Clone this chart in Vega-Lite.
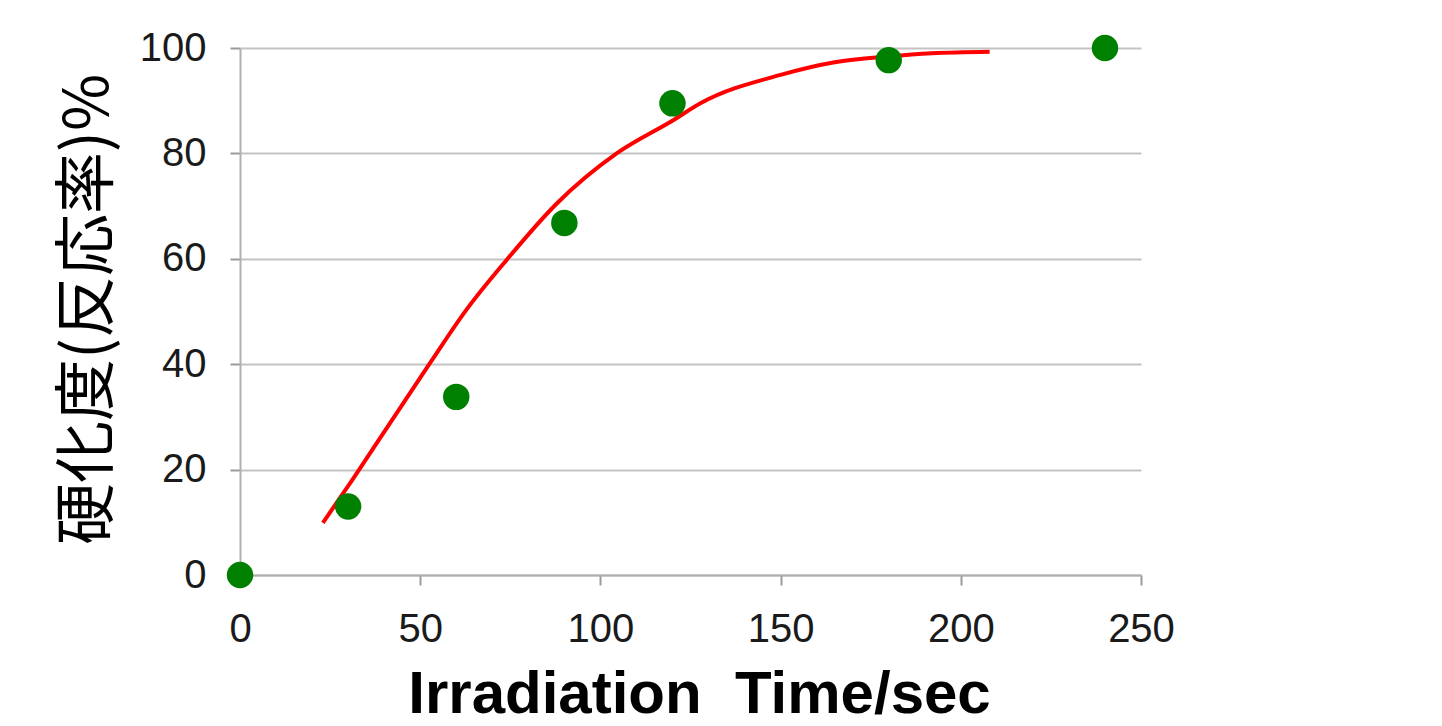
{
  "$schema": "https://vega.github.io/schema/vega-lite/v6.json",
  "width": 901,
  "height": 527,
  "autosize": "none",
  "padding": {"left": 240, "top": 48, "right": 301, "bottom": 151},
  "background": "white",
  "config": {
    "view": {"stroke": null},
    "axis": {
      "labelFont": "Liberation Sans",
      "labelFontSize": 40,
      "labelColor": "#1a1a1a",
      "gridColor": "#c3c3c3",
      "gridWidth": 2,
      "domainColor": "#b0b0b0",
      "domainWidth": 2,
      "tickColor": "#9a9a9a",
      "tickWidth": 2,
      "tickSize": 10
    }
  },
  "datasets": {
    "measured": [
      {"time": 0, "cure": 0},
      {"time": 30, "cure": 13},
      {"time": 60, "cure": 33.8},
      {"time": 90, "cure": 66.8},
      {"time": 120, "cure": 89.5},
      {"time": 180, "cure": 97.7},
      {"time": 240, "cure": 100}
    ],
    "fit": [
      {"time": 23, "cure": 9.9},
      {"time": 31.5, "cure": 18.4},
      {"time": 42, "cure": 29.2},
      {"time": 52.7, "cure": 40.2},
      {"time": 62.9, "cure": 50.4},
      {"time": 74, "cure": 59.8},
      {"time": 87.9, "cure": 70.5},
      {"time": 104.5, "cure": 80.0},
      {"time": 120.2, "cure": 86.3},
      {"time": 128, "cure": 89.6},
      {"time": 150, "cure": 94.9},
      {"time": 165, "cure": 97.3},
      {"time": 180, "cure": 98.4},
      {"time": 192, "cure": 99.0},
      {"time": 208, "cure": 99.3}
    ]
  },
  "encoding": {
    "x": {
      "field": "time",
      "type": "quantitative",
      "scale": {"domain": [0, 250], "nice": false, "zero": false},
      "axis": {
        "values": [0, 50, 100, 150, 200, 250],
        "grid": false,
        "title": "Irradiation\u00a0\u00a0Time/sec",
        "titleFont": "Liberation Sans",
        "titleFontSize": 60,
        "titleFontWeight": "bold",
        "titleColor": "#000000",
        "titleBaseline": "alphabetic",
        "titleX": 459,
        "titleY": 137,
        "labelPadding": 24,
        "labelFlush": false
      }
    },
    "y": {
      "field": "cure",
      "type": "quantitative",
      "scale": {"domain": [0, 100], "nice": false},
      "axis": {
        "values": [0, 20, 40, 60, 80, 100],
        "grid": true,
        "title": "硬化度(反応率)%",
        "titleFont": "Noto Sans CJK JP",
        "titleFontSize": 62,
        "titleFontWeight": "normal",
        "titleColor": "#000000",
        "titleBaseline": "middle",
        "titleX": -152,
        "titleY": 261,
        "labelPadding": 24,
        "labelFlush": false
      }
    }
  },
  "layer": [
    {
      "data": {"name": "fit"},
      "mark": {"type": "line", "color": "#ff0000", "strokeWidth": 4, "interpolate": "monotone", "clip": false},
      "encoding": {}
    },
    {
      "data": {"name": "measured"},
      "mark": {"type": "point", "filled": true, "shape": "circle", "color": "#008000", "opacity": 1, "size": 700, "clip": false},
      "encoding": {}
    }
  ]
}
